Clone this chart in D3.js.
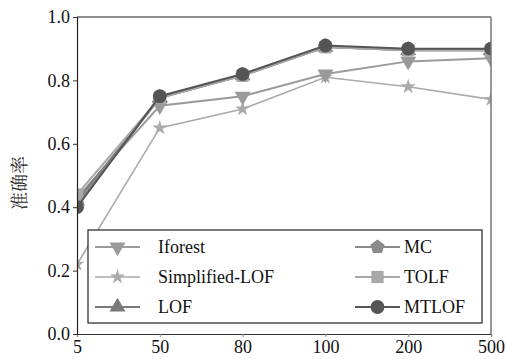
<!DOCTYPE html>
<html><head><meta charset="utf-8">
<script src="https://cdn.jsdelivr.net/npm/d3@7"></script>
<style>body{margin:0;background:#fff}</style>
</head><body>
<script>
const categories = ["5","50","80","100","200","500"];
const yTicks = [0.0,0.2,0.4,0.6,0.8,1.0];
const seriesNames = ["Iforest","Simplified-LOF","LOF","MC","TOLF","MTLOF"];
const iforest = [0.43,0.72,0.75,0.82,0.86,0.87];
const simplifiedLOF = [0.22,0.65,0.71,0.81,0.78,0.74];
const lof = [0.42,0.745,0.815,0.905,0.895,0.895];
const mc = [0.41,0.745,0.815,0.905,0.895,0.895];
const tolf = [0.44,0.745,0.815,0.905,0.895,0.895];
const mtlof = [0.40,0.75,0.82,0.91,0.90,0.90];

const W=507,H=359, m={l:77,r:16,t:17,b:25};
const svg=d3.select("body").append("svg").attr("width",W).attr("height",H);
const x=d3.scalePoint().domain(categories).range([m.l,W-m.r]);
const y=d3.scaleLinear().domain([0,1]).range([H-m.b,m.t]);
const font='Liberation Serif, DejaVu Serif, serif';

const styles = {
  "Iforest":{data:iforest,color:"#9a9a9a",sym:"tdown",w:2},
  "Simplified-LOF":{data:simplifiedLOF,color:"#aaaaaa",sym:"star",w:1.6},
  "LOF":{data:lof,color:"#7a7a7a",sym:"tri",w:2},
  "MC":{data:mc,color:"#8a8a8a",sym:"pent",w:2},
  "TOLF":{data:tolf,color:"#a8a8a8",sym:"sq",w:2},
  "MTLOF":{data:mtlof,color:"#555555",sym:"circ",w:2}
};
function symPath(s){
  if(s==="circ") return d3.symbol(d3.symbolCircle,150)();
  if(s==="sq") return d3.symbol(d3.symbolSquare,150)();
  if(s==="tri") return d3.symbol(d3.symbolTriangle,110)();
  if(s==="tdown") return d3.symbol(d3.symbolTriangle,110)();
  if(s==="star") return d3.symbol(d3.symbolStar,70)();
  if(s==="pent"){
    const r=7.5; let p=[];
    for(let i=0;i<5;i++){const a=-Math.PI/2+i*2*Math.PI/5;p.push([r*Math.cos(a),r*Math.sin(a)]);}
    return "M"+p.map(d=>d.join(",")).join("L")+"Z";
  }
}
function symTransform(s){return s==="tdown"?" rotate(180)":"";}

svg.append("clipPath").attr("id","clip").append("rect")
  .attr("x",m.l).attr("y",m.t).attr("width",W-m.l-m.r).attr("height",H-m.t-m.b);

const g=svg.append("g").attr("clip-path","url(#clip)");
const line=d3.line().x((d,i)=>x(categories[i])).y(d=>y(d));
const order=["Simplified-LOF","Iforest","LOF","MC","TOLF","MTLOF"];
order.forEach(n=>{
  const st=styles[n];
  g.append("path").datum(st.data).attr("d",line).attr("fill","none")
    .attr("stroke",st.color).attr("stroke-width",st.w);
  g.selectAll(null).data(st.data).enter().append("path")
    .attr("d",symPath(st.sym))
    .attr("transform",(d,i)=>`translate(${x(categories[i])},${y(d)})${symTransform(st.sym)}`)
    .attr("fill",st.color);
});

// frame
svg.append("line").attr("x1",m.l).attr("x2",W-m.r).attr("y1",m.t).attr("y2",m.t).attr("stroke","#222").attr("stroke-width",1.2);
svg.append("line").attr("x1",W-m.r).attr("x2",W-m.r).attr("y1",m.t).attr("y2",H-m.b).attr("stroke","#777").attr("stroke-width",1.5);

const xa=svg.append("g").attr("transform",`translate(0,${H-m.b})`)
  .call(d3.axisBottom(x).tickSize(3).tickPadding(3));
xa.attr("font-family",font).attr("font-size",18);
xa.select(".domain").attr("stroke","#333").attr("stroke-width",1.2);
xa.selectAll(".tick line").attr("stroke","#888");
xa.selectAll("text").attr("fill","#111");

const ya=svg.append("g").attr("transform",`translate(${m.l},0)`)
  .call(d3.axisLeft(y).tickValues(yTicks).tickFormat(d3.format(".1f")).tickSize(4).tickPadding(3));
ya.attr("font-family",font).attr("font-size",18);
ya.select(".domain").attr("stroke","#222").attr("stroke-width",1.2);
ya.selectAll(".tick line").attr("stroke","#333");
ya.selectAll("text").attr("fill","#111");

svg.append("text").attr("transform","translate(26,183) rotate(-90)")
  .attr("text-anchor","middle").attr("font-family",'Noto Serif CJK SC, Noto Sans CJK SC, sans-serif')
  .attr("font-size",18).attr("fill","#222").text("准确率");

// legend
const lg=svg.append("g").attr("font-family",font).attr("font-size",18);
lg.append("rect").attr("x",88).attr("y",230).attr("width",394).attr("height",93)
  .attr("fill","#fff").attr("stroke","#222").attr("stroke-width",1.2);
seriesNames.forEach((n,i)=>{
  const st=styles[n];
  const col=i<3?0:1, row=i%3;
  const x0=col===0?95:355, yy=247+row*30;
  lg.append("line").attr("x1",x0).attr("x2",x0+45).attr("y1",yy).attr("y2",yy)
    .attr("stroke",st.color).attr("stroke-width",st.w);
  lg.append("path").attr("d",symPath(st.sym))
    .attr("transform",`translate(${x0+22.5},${yy})${symTransform(st.sym)}`).attr("fill",st.color);
  lg.append("text").attr("x",col===0?158:404).attr("y",yy).attr("dy","0.35em")
    .attr("fill","#111").text(n);
});
</script>
</body></html>
